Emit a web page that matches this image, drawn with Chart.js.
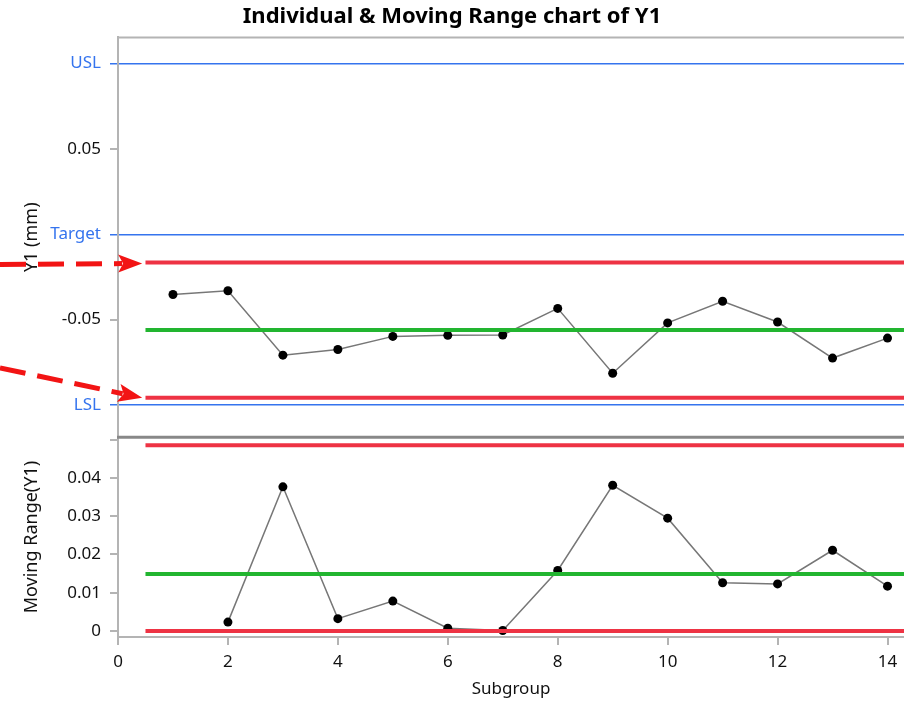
<!DOCTYPE html>
<html>
<head>
<meta charset="utf-8">
<title>Individual & Moving Range chart of Y1</title>
<script src="https://cdn.jsdelivr.net/npm/chart.js@4.4.1/dist/chart.umd.min.js"></script>
<style>
    html, body { margin: 0; padding: 0; background: #fff; }
    #wrap { width: 904px; height: 701px; }
</style>
</head>
<body>
<div id="wrap"><canvas id="chart" width="904" height="701"></canvas></div>
<script>
// 数据：单值 + 移动极差
const subgroups = [1, 2, 3, 4, 5, 6, 7, 8, 9, 10, 11, 12, 13, 14];
const y1Values = [-0.0353, -0.0331, -0.0708, -0.0675, -0.0598, -0.0592, -0.0590,
                  -0.0434, -0.0814, -0.0519, -0.0392, -0.0514, -0.0725, -0.0608];
const mrSubgroups = [2, 3, 4, 5, 6, 7, 8, 9, 10, 11, 12, 13, 14];
const mrValues = [0.0023, 0.0377, 0.0032, 0.0078, 0.0007, 0.0001, 0.0158,
                  0.0381, 0.0295, 0.0126, 0.0123, 0.0211, 0.0117];

// 控制限 [UCL, CL, LCL]
const indivLimits = [-0.0165, -0.0560, -0.0958];
const mrLimits = [0.0486, 0.0149, 0];
const limitSpan = [0.5, 14.3];

// 规格限
const specValues = [0.1, 0, -0.1];
const specNames = ['USL', 'Target', 'LSL'];

// 刻度
const xTickValues = [0, 2, 4, 6, 8, 10, 12, 14];
const topTickValues = [-0.1, -0.05, 0, 0.05, 0.1];
const topTickLabels = ['LSL', '-0.05', 'Target', '0.05', 'USL'];
const mrTickValues = [0, 0.01, 0.02, 0.03, 0.04, 0.05];
const mrTickLabels = ['0', '0.01', '0.02', '0.03', '0.04', ''];

const BLUE = '#3574ee';
const RED = '#ee3344';
const GREEN = '#22b530';
const AXIS = '#b4b4b4';
const FONT = '"Noto Sans", "Open Sans", sans-serif';

Chart.defaults.font.family = FONT;
Chart.defaults.color = '#111';

function isSpec(v) {
    return specValues.some(s => Math.abs(s - v) < 1e-9);
}

function limitLine(value, color, axis) {
    return {
        type: 'line',
        yAxisID: axis,
        data: limitSpan.map(x => ({ x: x, y: value })),
        borderColor: color,
        borderWidth: 4,
        pointRadius: 0,
        order: 1
    };
}

function seriesLine(xs, ys, axis) {
    return {
        type: 'line',
        yAxisID: axis,
        data: xs.map((x, i) => ({ x: x, y: ys[i] })),
        borderColor: '#777',
        borderWidth: 1.5,
        pointRadius: 4.5,
        pointBackgroundColor: '#000',
        pointBorderColor: '#000',
        pointBorderWidth: 0,
        order: 2
    };
}

// 红色虚线箭头（注释）
function drawArrow(ctx, x0, y0, x1, y1) {
    const ang = Math.atan2(y1 - y0, x1 - x0);
    const head = 24, half = 9;
    const cos = Math.cos(ang), sin = Math.sin(ang);
    const bx = x1 - head * cos, by = y1 - head * sin;
    ctx.save();
    ctx.strokeStyle = '#f21414';
    ctx.fillStyle = '#f21414';
    ctx.lineWidth = 5;
    ctx.setLineDash([26, 12]);
    ctx.beginPath();
    ctx.moveTo(x0, y0);
    ctx.lineTo(bx + 4 * cos, by + 4 * sin);
    ctx.stroke();
    ctx.setLineDash([]);
    ctx.beginPath();
    ctx.moveTo(x1, y1);
    ctx.lineTo(bx - half * sin, by + half * cos);
    ctx.lineTo(bx + 5 * cos, by + 5 * sin);
    ctx.lineTo(bx + half * sin, by - half * cos);
    ctx.closePath();
    ctx.fill();
    ctx.restore();
}

function noPadding(s) {
    s.paddingLeft = 0;
    s.paddingRight = 0;
    s.paddingTop = 0;
    s.paddingBottom = 0;
}

const framePlugin = {
    id: 'frame',
    afterDraw(chart) {
        const { ctx, chartArea } = chart;
        const yTop = chart.scales.y;
        ctx.save();
        ctx.strokeStyle = AXIS;
        ctx.lineWidth = 2;
        ctx.beginPath();
        ctx.moveTo(chartArea.left, chartArea.top);
        ctx.lineTo(chartArea.right, chartArea.top);
        ctx.stroke();
        ctx.strokeStyle = '#888';
        ctx.lineWidth = 3;
        ctx.beginPath();
        ctx.moveTo(chartArea.left - 1, yTop.bottom);
        ctx.lineTo(chartArea.right, yTop.bottom);
        ctx.stroke();
        ctx.restore();

        const xs = chart.scales.x;
        const tipX = xs.getPixelForValue(0.44);
        const uy = yTop.getPixelForValue(indivLimits[0]) + 1;
        const ly = yTop.getPixelForValue(indivLimits[2]);
        drawArrow(ctx, 0, uy + 1, tipX, uy);
        drawArrow(ctx, 0, ly - 30, tipX, ly);
    }
};

const ctx = document.getElementById('chart').getContext('2d');
new Chart(ctx, {
    data: {
        datasets: [
            limitLine(indivLimits[0], RED, 'y'),
            limitLine(indivLimits[1], GREEN, 'y'),
            limitLine(indivLimits[2], RED, 'y'),
            limitLine(mrLimits[0], RED, 'y2'),
            limitLine(mrLimits[1], GREEN, 'y2'),
            limitLine(mrLimits[2], RED, 'y2'),
            seriesLine(subgroups, y1Values, 'y'),
            seriesLine(mrSubgroups, mrValues, 'y2')
        ]
    },
    options: {
        responsive: false,
        animation: false,
        layout: { padding: 0, autoPadding: false },
        plugins: {
            legend: { display: false },
            tooltip: { enabled: false },
            title: {
                display: true,
                text: 'Individual & Moving Range chart of Y1',
                color: '#000',
                font: { size: 22, weight: 'bold', family: FONT },
                padding: { top: 4, bottom: 7 }
            }
        },
        scales: {
            x: {
                type: 'linear',
                min: 0,
                max: 14.3,
                afterBuildTicks: s => { s.ticks = xTickValues.map(v => ({ value: v })); },
                afterFit: s => { s.height = 64; noPadding(s); },
                grid: { drawOnChartArea: false, tickLength: 8, tickColor: AXIS, lineWidth: 2 },
                border: { color: AXIS, width: 2 },
                ticks: { color: '#111', font: { size: 17 }, padding: 7, maxRotation: 0, autoSkip: false },
                title: { display: true, text: 'Subgroup', color: '#111', font: { size: 17 }, padding: { top: 0, bottom: 2 } }
            },
            y2: {
                type: 'linear',
                position: 'left',
                stack: 'panels',
                stackWeight: 1,
                min: -0.0016,
                max: 0.0507,
                afterBuildTicks: s => { s.ticks = mrTickValues.map(v => ({ value: v })); },
                afterFit: s => { s.width = 118; noPadding(s); },
                grid: { drawOnChartArea: false, tickLength: 8, tickColor: AXIS, lineWidth: 2 },
                border: { color: AXIS, width: 2 },
                ticks: {
                    callback: (v, i) => mrTickLabels[i],
                    color: '#111', font: { size: 17 }, padding: 9, autoSkip: false
                },
                title: { display: true, text: 'Moving Range(Y1)', color: '#111', font: { size: 18 }, padding: { top: 21, bottom: 0 } }
            },
            y: {
                type: 'linear',
                position: 'left',
                stack: 'panels',
                stackWeight: 2,
                min: -0.1188,
                max: 0.1153,
                afterBuildTicks: s => { s.ticks = topTickValues.map(v => ({ value: v })); },
                afterFit: s => { s.width = 118; noPadding(s); },
                grid: {
                    color: c => (c.tick && isSpec(c.tick.value)) ? BLUE : 'rgba(0,0,0,0)',
                    tickColor: c => (c.tick && isSpec(c.tick.value)) ? BLUE : AXIS,
                    lineWidth: c => (c.tick && isSpec(c.tick.value)) ? 1.5 : 2,
                    tickLength: 8
                },
                border: { color: AXIS, width: 2 },
                ticks: {
                    callback: (v, i) => topTickLabels[i],
                    color: c => (c.tick && isSpec(c.tick.value)) ? BLUE : '#111',
                    font: { size: 17 }, padding: 9, autoSkip: false
                },
                title: { display: true, text: 'Y1 (mm)', color: '#111', font: { size: 18 }, padding: { top: 21, bottom: 0 } }
            }
        }
    },
    plugins: [framePlugin]
});
</script>
</body>
</html>
